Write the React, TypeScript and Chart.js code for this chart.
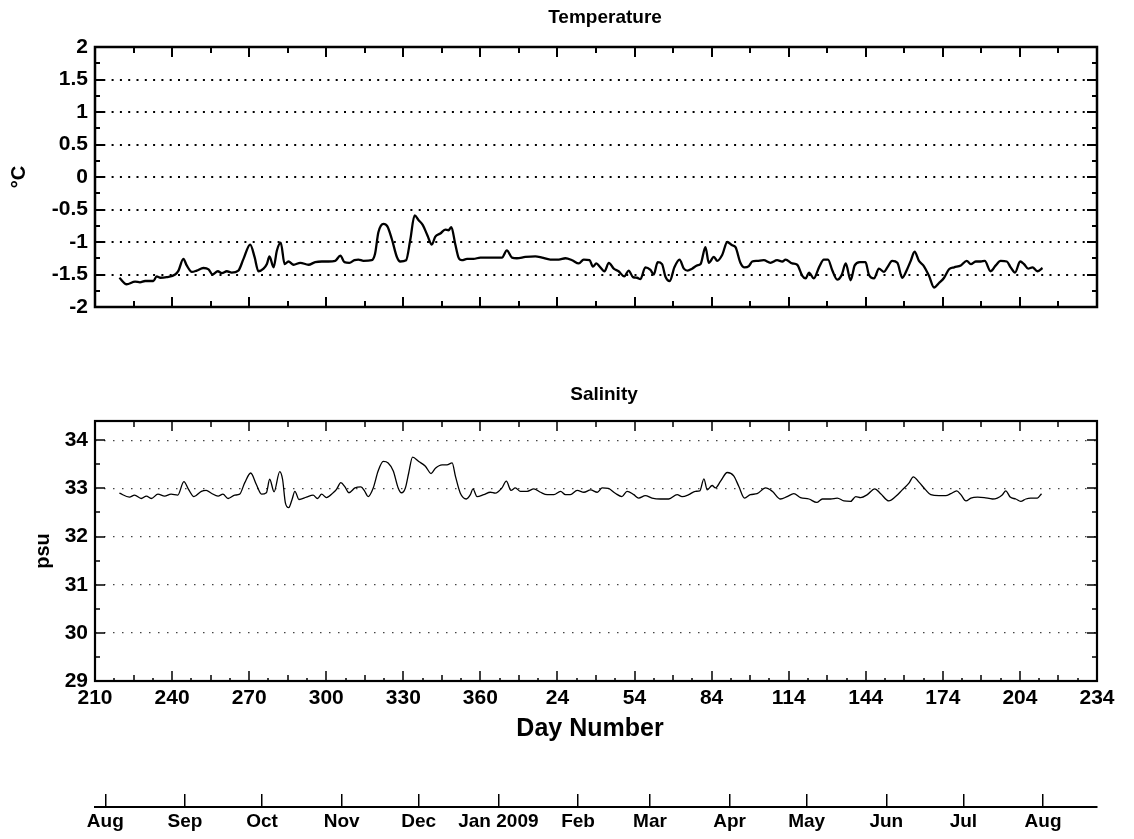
import { useEffect, useRef } from 'react';
import { Chart, registerables } from 'chart.js';

Chart.register(...registerables);

// ---------- data (continuous day number: 2008 day-of-year, continuing past 366 into 2009) ----------
const tempDays = [
  219.5, 222.3, 225.6, 227.5, 229.5, 232.7, 234.0, 235.3, 237.9, 241.2, 242.5, 244.4, 245.7, 247.7, 249.6,
  252.2, 254.2, 255.7, 257.8, 259.4, 261.3, 263.2, 265.8, 267.8, 270.4, 272.1, 273.6, 275.6, 276.9, 277.9,
  279.5, 280.8, 282.3, 283.8, 285.3, 287.3, 289.9, 293.1, 295.7, 298.3, 300.9, 303.5, 305.5, 307.1, 309.0,
  311.0, 312.5, 314.5, 317.7, 319.0, 320.3, 322.3, 323.8, 325.5, 327.5, 328.8, 331.1, 332.7, 334.4, 335.9,
  337.6, 339.4, 341.1, 342.4, 344.4, 346.3, 347.6, 348.7, 350.2, 351.5, 352.8, 354.8, 357.3, 360.0, 363.8,
  368.4, 370.3, 372.3, 374.2, 377.5, 381.4, 384.0, 387.2, 390.5, 393.1, 395.7, 398.3, 400.2, 402.5, 403.8,
  405.1, 406.7, 408.3, 410.0, 411.9, 413.8, 416.0, 417.7, 419.4, 421.0, 422.3, 424.2, 426.2, 427.5, 429.0,
  430.7, 432.0, 433.7, 435.5, 437.5, 439.2, 440.7, 442.4, 444.4, 445.7, 447.6, 448.9, 450.9, 452.2, 454.1,
  456.1, 458.0, 459.3, 461.2, 462.8, 464.5, 465.8, 467.7, 470.3, 472.9, 475.5, 477.5, 478.8, 481.4, 483.3,
  485.3, 486.6, 487.9, 489.8, 491.8, 493.7, 495.3, 497.0, 498.9, 500.6, 502.2, 504.1, 505.7, 507.7, 509.9,
  511.2, 513.2, 515.1, 517.1, 518.4, 520.3, 522.3, 524.2, 526.2, 527.5, 529.0, 530.7, 532.4, 534.6, 536.6,
  538.5, 540.5, 542.4, 544.4, 547.0, 549.3, 550.9, 552.8, 554.8, 556.3, 558.6, 560.6, 562.5, 564.9, 566.4,
  568.1, 570.1, 571.6, 573.2, 574.9, 576.8, 578.8,
];
const tempValues = [
  -1.55, -1.65, -1.61, -1.62, -1.60, -1.60, -1.53, -1.55, -1.54, -1.50, -1.44, -1.26, -1.36, -1.46, -1.44,
  -1.40, -1.42, -1.50, -1.45, -1.48, -1.45, -1.47, -1.44, -1.26, -1.04, -1.23, -1.45, -1.41, -1.34, -1.22,
  -1.39, -1.13, -1.01, -1.34, -1.30, -1.35, -1.32, -1.35, -1.31, -1.30, -1.30, -1.29, -1.21, -1.31, -1.32,
  -1.28, -1.27, -1.29, -1.28, -1.18, -0.85, -0.72, -0.76, -0.95, -1.23, -1.30, -1.28, -0.97, -0.59, -0.66,
  -0.74, -0.90, -1.04, -0.92, -0.87, -0.81, -0.82, -0.77, -1.03, -1.24, -1.28, -1.26, -1.26, -1.24, -1.24,
  -1.24, -1.13, -1.24, -1.25, -1.23, -1.22, -1.24, -1.27, -1.27, -1.25, -1.28, -1.33, -1.27, -1.28, -1.38,
  -1.33, -1.39, -1.45, -1.32, -1.41, -1.45, -1.53, -1.44, -1.54, -1.55, -1.57, -1.39, -1.43, -1.50, -1.31,
  -1.34, -1.53, -1.60, -1.39, -1.27, -1.41, -1.44, -1.41, -1.36, -1.34, -1.08, -1.32, -1.23, -1.29, -1.20,
  -1.00, -1.05, -1.08, -1.32, -1.39, -1.37, -1.30, -1.29, -1.28, -1.32, -1.28, -1.30, -1.27, -1.33, -1.35,
  -1.52, -1.56, -1.47, -1.56, -1.39, -1.27, -1.27, -1.44, -1.58, -1.51, -1.33, -1.59, -1.36, -1.31, -1.31,
  -1.50, -1.56, -1.41, -1.46, -1.39, -1.29, -1.32, -1.55, -1.41, -1.29, -1.15, -1.29, -1.36, -1.52, -1.70,
  -1.63, -1.55, -1.42, -1.39, -1.36, -1.29, -1.34, -1.30, -1.30, -1.29, -1.45, -1.36, -1.29, -1.30, -1.39,
  -1.47, -1.30, -1.34, -1.41, -1.39, -1.45, -1.40,
];

const salDays = [
  219.5, 223.4, 225.4, 228.0, 230.0, 231.9, 234.5, 237.1, 239.6, 242.2, 244.6, 246.4, 248.5, 251.4, 253.3,
  255.3, 257.9, 259.8, 261.8, 264.4, 266.3, 268.3, 270.6, 272.8, 274.8, 276.7, 278.0, 279.7, 281.9, 283.0,
  284.1, 285.4, 286.7, 287.8, 289.4, 292.3, 294.9, 296.6, 298.2, 300.1, 302.7, 304.0, 305.7, 307.3, 308.8,
  311.2, 313.5, 315.0, 316.3, 318.3, 320.2, 322.2, 324.1, 326.1, 328.0, 329.3, 330.8, 332.1, 333.6, 336.0,
  338.6, 340.8, 342.5, 345.1, 347.0, 349.0, 350.3, 352.2, 354.5, 356.1, 357.1, 358.7, 361.3, 363.9, 365.8,
  368.4, 370.1, 371.9, 373.6, 375.6, 378.2, 380.8, 383.4, 386.0, 388.6, 391.2, 393.1, 395.0, 397.7, 400.3,
  402.9, 405.5, 407.4, 409.8, 412.5, 415.1, 417.1, 419.7, 421.6, 424.2, 426.8, 430.1, 433.3, 436.6, 438.5,
  441.1, 443.7, 445.4, 447.0, 448.3, 450.2, 451.5, 453.5, 456.1, 458.6, 460.6, 462.8, 465.1, 467.7, 471.0,
  473.6, 476.8, 479.4, 482.0, 484.6, 487.9, 490.9, 493.1, 496.3, 498.9, 501.5, 504.1, 506.1, 508.0, 510.6,
  513.5, 515.8, 519.0, 521.6, 524.2, 526.8, 528.5, 530.7, 533.3, 535.3, 538.5, 541.1, 543.1, 545.4, 547.0,
  549.0, 550.9, 553.5, 556.1, 559.3, 561.2, 563.2, 564.5, 566.2, 568.4, 570.3, 572.3, 574.2, 576.8, 578.4,
];
const salValues = [
  32.90, 32.82, 32.86, 32.79, 32.84, 32.79, 32.88, 32.84, 32.88, 32.86, 33.14, 32.98, 32.83, 32.94, 32.96,
  32.90, 32.84, 32.88, 32.79, 32.86, 32.88, 33.12, 33.32, 33.08, 32.88, 32.91, 33.19, 32.93, 33.35, 33.19,
  32.70, 32.60, 32.77, 32.94, 32.77, 32.82, 32.86, 32.79, 32.88, 32.81, 32.91, 32.98, 33.12, 33.03, 32.91,
  33.01, 33.03, 32.94, 32.83, 33.01, 33.36, 33.56, 33.53, 33.36, 33.01, 32.91, 33.01, 33.32, 33.65, 33.56,
  33.46, 33.31, 33.42, 33.49, 33.49, 33.53, 33.25, 32.90, 32.78, 32.87, 32.99, 32.83, 32.87, 32.92, 32.90,
  33.01, 33.15, 32.96, 33.01, 32.94, 32.94, 32.99, 32.92, 32.87, 32.87, 32.94, 32.87, 32.87, 32.96, 32.92,
  32.97, 32.92, 33.01, 33.00, 32.90, 32.83, 32.94, 32.87, 32.80, 32.85, 32.80, 32.78, 32.78, 32.87, 32.83,
  32.87, 32.94, 32.95, 33.20, 32.97, 33.06, 33.01, 33.15, 33.33, 33.26, 33.04, 32.80, 32.87, 32.89, 33.01,
  32.94, 32.78, 32.83, 32.89, 32.81, 32.78, 32.71, 32.78, 32.78, 32.80, 32.74, 32.73, 32.83, 32.81, 32.87,
  32.99, 32.89, 32.74, 32.83, 32.97, 33.11, 33.24, 33.13, 32.97, 32.87, 32.85, 32.85, 32.89, 32.95, 32.87,
  32.74, 32.80, 32.82, 32.81, 32.78, 32.80, 32.87, 32.95, 32.82, 32.78, 32.73, 32.78, 32.80, 32.80, 32.89,
];

const dayTicks = [210, 240, 270, 300, 330, 360, 390, 420, 450, 480, 510, 540, 570, 600];
const dayTickLabels = ['210', '240', '270', '300', '330', '360', '24', '54', '84', '114', '144', '174', '204', '234'];
const tempTicks = [-2, -1.5, -1, -0.5, 0, 0.5, 1, 1.5, 2];
const tempTickLabels = ['-2', '-1.5', '-1', '-0.5', '0', '0.5', '1', '1.5', '2'];
const salTicks = [29, 30, 31, 32, 33, 34];
const salTickLabels = ['29', '30', '31', '32', '33', '34'];
const monthDays = [214, 245, 275, 306, 336, 367, 398, 426, 457, 487, 518, 548, 579];
const monthLabels = ['Aug', 'Sep', 'Oct', 'Nov', 'Dec', 'Jan 2009', 'Feb', 'Mar', 'Apr', 'May', 'Jun', 'Jul', 'Aug'];

const DAY_MIN = 210;
const DAY_MAX = 600;

// ---------- layout ----------
const W = 1134;
const H = 839;
const FONT = "'Liberation Sans', Arial, Helvetica, sans-serif";
const PLOT_LEFT = 95;
const PLOT_RIGHT = 1097;

// MATLAB-like box with inward ticks on all four sides, plus free-placed texts
const frameBox = {
  id: 'frameBox',
  afterDatasetsDraw(chart: any, _args: any, o: any) {
    if (!o || !o.enabled) return;
    const { ctx, chartArea: a } = chart;
    const xs = chart.scales.x;
    const ys = chart.scales.y;
    ctx.save();
    ctx.strokeStyle = '#000';
    ctx.lineCap = 'butt';
    ctx.lineWidth = o.tickWidth;
    ctx.beginPath();
    for (const t of o.xTicks) {
      const px = Math.round(xs.getPixelForValue(t.v));
      if (t.bottom) { ctx.moveTo(px, a.bottom); ctx.lineTo(px, a.bottom - t.len); }
      if (t.top) { ctx.moveTo(px, a.top); ctx.lineTo(px, a.top + t.len); }
    }
    for (const t of o.yTicks) {
      const py = Math.round(ys.getPixelForValue(t.v));
      ctx.moveTo(a.left, py); ctx.lineTo(a.left + t.len, py);
      ctx.moveTo(a.right, py); ctx.lineTo(a.right - t.len, py);
    }
    ctx.stroke();
    ctx.lineWidth = o.boxWidth;
    ctx.strokeRect(a.left, a.top, a.right - a.left, a.bottom - a.top);
    for (const t of o.texts) {
      ctx.save();
      ctx.font = t.font;
      ctx.fillStyle = '#000';
      ctx.textAlign = 'center';
      ctx.textBaseline = 'middle';
      ctx.translate(t.x, t.y);
      if (t.rot) ctx.rotate(t.rot);
      ctx.fillText(t.text, 0, 0);
      ctx.restore();
    }
    ctx.restore();
  },
};

function xTickMarks(withTiny: boolean) {
  const out: any[] = [];
  for (let i = 0; i < dayTicks.length; i++) {
    out.push({ v: dayTicks[i], len: 10, top: true, bottom: true });
    if (i < dayTicks.length - 1) {
      const a = dayTicks[i];
      const b = dayTicks[i + 1];
      out.push({ v: (a + b) / 2, len: 6, top: true, bottom: true });
      if (withTiny) {
        out.push({ v: a + (b - a) / 4, len: 3, top: false, bottom: true });
        out.push({ v: a + (3 * (b - a)) / 4, len: 3, top: false, bottom: true });
      }
    }
  }
  return out;
}

function yTickMarks(ticks: number[], max: number) {
  const out: any[] = [];
  for (let i = 0; i < ticks.length; i++) {
    out.push({ v: ticks[i], len: 10 });
    if (i < ticks.length - 1) out.push({ v: (ticks[i] + ticks[i + 1]) / 2, len: 5 });
  }
  return out.filter((t) => t.v <= max);
}

const bold = (size: number) => ({ family: FONT, size, weight: 'bold' as const });

function tempConfig(): any {
  return {
    type: 'line',
    data: {
      datasets: [
        {
          data: tempDays.map((d, i) => ({ x: d, y: tempValues[i] })),
          borderColor: '#000',
          borderWidth: 2.3,
          pointRadius: 0,
          fill: false,
          cubicInterpolationMode: 'monotone',
        },
      ],
    },
    options: {
      responsive: false,
      animation: false,
      devicePixelRatio: 1,
      events: [],
      layout: { padding: { left: 0, right: W - PLOT_RIGHT, top: 47, bottom: H - 307 } },
      plugins: {
        legend: { display: false },
        tooltip: { enabled: false },
        title: { display: false },
        frameBox: {
          enabled: true,
          tickWidth: 2,
          boxWidth: 2.5,
          xTicks: xTickMarks(false),
          yTicks: yTickMarks(tempTicks, 2),
          texts: [
            { text: 'Temperature', x: 605, y: 18, font: `bold 19px ${FONT}` },
            { text: '°C', x: 19, y: 177, rot: -Math.PI / 2, font: `bold 20px ${FONT}` },
          ],
        },
      },
      scales: {
        x: {
          type: 'linear',
          min: DAY_MIN,
          max: DAY_MAX,
          afterBuildTicks: (s: any) => { s.ticks = dayTicks.map((v) => ({ value: v })); },
          ticks: { display: false },
          grid: { display: false },
          border: { display: false },
          afterFit: (s: any) => { s.height = 0; },
        },
        y: {
          type: 'linear',
          min: -2,
          max: 2,
          afterBuildTicks: (s: any) => { s.ticks = tempTicks.map((v) => ({ value: v })); },
          ticks: {
            font: bold(21),
            color: '#000',
            padding: 7,
            callback: (v: number) => tempTickLabels[tempTicks.indexOf(v)],
          },
          grid: { drawTicks: false, color: '#000', lineWidth: 2 },
          border: { display: false, dash: [2, 6.3], dashOffset: 0 },
          afterFit: (s: any) => { s.width = PLOT_LEFT; },
        },
      },
    },
    plugins: [frameBox],
  };
}

function salConfig(): any {
  return {
    type: 'line',
    data: {
      datasets: [
        {
          data: salDays.map((d, i) => ({ x: d, y: salValues[i] })),
          borderColor: '#000',
          borderWidth: 1.3,
          pointRadius: 0,
          fill: false,
          cubicInterpolationMode: 'monotone',
        },
      ],
    },
    options: {
      responsive: false,
      animation: false,
      devicePixelRatio: 1,
      events: [],
      layout: { padding: { left: 0, right: W - PLOT_RIGHT, top: 421, bottom: 0 } },
      plugins: {
        legend: { display: false },
        tooltip: { enabled: false },
        title: { display: false },
        frameBox: {
          enabled: true,
          tickWidth: 1.5,
          boxWidth: 2.2,
          xTicks: xTickMarks(true),
          yTicks: yTickMarks(salTicks, 34.4),
          texts: [
            { text: 'Salinity', x: 604, y: 395, font: `bold 19px ${FONT}` },
            { text: 'psu', x: 43, y: 551, rot: -Math.PI / 2, font: `bold 20px ${FONT}` },
            { text: 'Day Number', x: 590, y: 729, font: `bold 25px ${FONT}` },
          ],
        },
      },
      scales: {
        x: {
          type: 'linear',
          min: DAY_MIN,
          max: DAY_MAX,
          afterBuildTicks: (s: any) => { s.ticks = dayTicks.map((v) => ({ value: v })); },
          ticks: {
            font: bold(21),
            color: '#000',
            padding: 5,
            maxRotation: 0,
            autoSkip: false,
            callback: (v: number) => dayTickLabels[dayTicks.indexOf(v)],
          },
          grid: { display: false, drawTicks: false },
          border: { display: false },
          afterFit: (s: any) => { s.height = H - 681; },
        },
        y: {
          type: 'linear',
          min: 29,
          max: 34.4,
          afterBuildTicks: (s: any) => { s.ticks = salTicks.map((v) => ({ value: v })); },
          ticks: {
            font: bold(21),
            color: '#000',
            padding: 7,
            callback: (v: number) => salTickLabels[salTicks.indexOf(v)],
          },
          grid: { drawTicks: false, color: '#444', lineWidth: 1.2 },
          border: { display: false, dash: [1.5, 7.5], dashOffset: 0 },
          afterFit: (s: any) => { s.width = PLOT_LEFT; },
        },
      },
    },
    plugins: [frameBox],
  };
}

function monthConfig(): any {
  return {
    type: 'line',
    data: { datasets: [] },
    options: {
      responsive: false,
      animation: false,
      devicePixelRatio: 1,
      events: [],
      layout: { padding: { left: PLOT_LEFT, right: W - PLOT_RIGHT, top: 794, bottom: 0 } },
      plugins: { legend: { display: false }, tooltip: { enabled: false }, title: { display: false } },
      scales: {
        x: {
          type: 'linear',
          min: DAY_MIN,
          max: DAY_MAX,
          afterBuildTicks: (s: any) => { s.ticks = monthDays.map((v) => ({ value: v })); },
          ticks: {
            font: bold(19),
            color: '#000',
            padding: 3,
            maxRotation: 0,
            autoSkip: false,
            callback: (v: number) => monthLabels[monthDays.indexOf(v)],
          },
          grid: { drawOnChartArea: true, drawTicks: false, color: '#000', lineWidth: 1.5 },
          border: { display: true, color: '#000', width: 2 },
          afterFit: (s: any) => { s.height = H - 807; },
        },
        y: { display: false, min: 0, max: 1 },
      },
    },
  };
}

function ChartCanvas({ make }: { make: () => any }) {
  const ref = useRef<HTMLCanvasElement | null>(null);
  useEffect(() => {
    if (!ref.current) return;
    const chart = new Chart(ref.current, make());
    return () => chart.destroy();
  }, [make]);
  return (
    <canvas
      ref={ref}
      width={W}
      height={H}
      style={{ position: 'absolute', left: 0, top: 0, width: W, height: H }}
    />
  );
}

export default function App() {
  return (
    <div style={{ position: 'absolute', left: 0, top: 0, width: W, height: H, background: '#fff', overflow: 'hidden' }}>
      <ChartCanvas make={tempConfig} />
      <ChartCanvas make={salConfig} />
      <ChartCanvas make={monthConfig} />
    </div>
  );
}
